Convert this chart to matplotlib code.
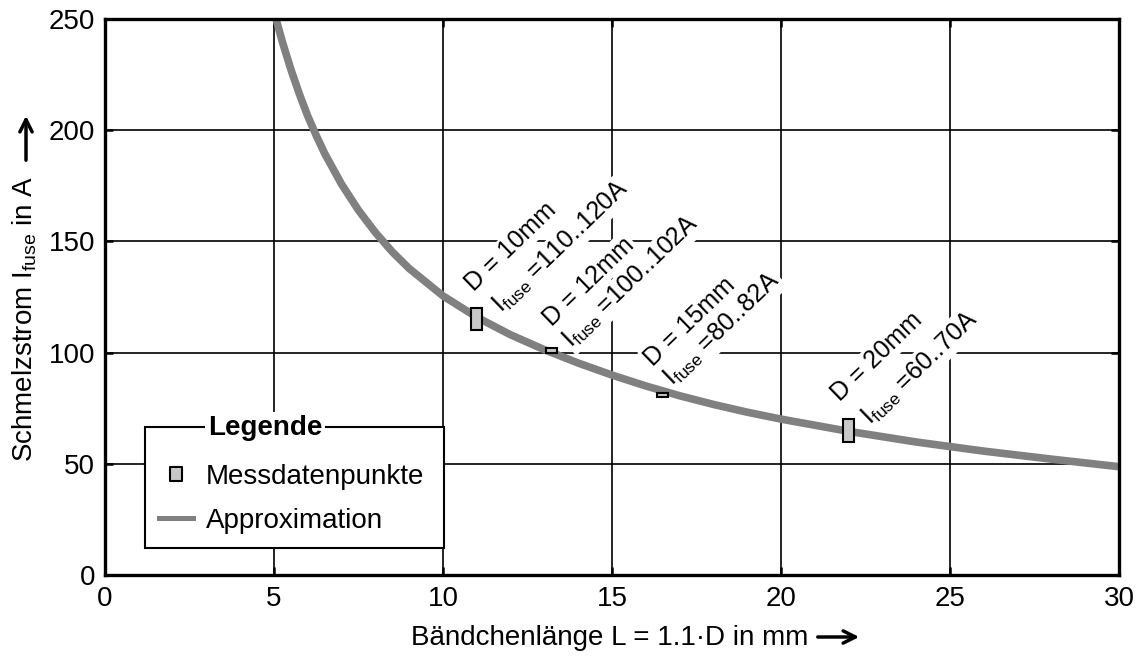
import matplotlib
matplotlib.use('Agg')
import matplotlib.pyplot as plt
from matplotlib.lines import Line2D
from matplotlib.path import Path
from matplotlib.patches import FancyArrowPatch

plt.rcParams['font.family'] = ['Liberation Sans', 'DejaVu Sans']
plt.rcParams['mathtext.fontset'] = 'custom'
plt.rcParams['mathtext.rm'] = 'Liberation Sans'
plt.rcParams['mathtext.it'] = 'Liberation Sans:italic'
plt.rcParams['mathtext.bf'] = 'Liberation Sans:bold'

# ---------------- data ----------------
curve_L = [5.06, 5.25, 5.5, 5.75, 6.0, 6.25, 6.5, 7.0, 7.5, 8.0, 8.5, 9.0,
           10, 11, 12, 13, 14, 15, 16, 17, 18, 19, 20, 22, 24, 26, 28, 30]
curve_I = [250, 239.6, 227.3, 216.3, 206.3, 197.6, 189.5, 175.7, 164.0, 154.0, 145.3, 137.8,
           125.5, 115.9, 108.0, 101.3, 95.3, 89.9, 85.0, 80.6, 76.7, 73.2, 70.1,
           64.6, 59.8, 55.7, 52.1, 48.7]

meas_D = [10, 12, 15, 20]
meas_L = [11.0, 13.2, 16.5, 22.0]
meas_Imin = [110, 100, 80, 60]
meas_Imax = [120, 102, 82, 70]

x_ticks = [0, 5, 10, 15, 20, 25, 30]
y_ticks = [0, 50, 100, 150, 200, 250]

legend_labels = ['Messdatenpunkte', 'Approximation']

# ---------------- layout ----------------
W, H = 1141, 660
fig = plt.figure(figsize=(W / 100, H / 100), dpi=100)
ax = fig.add_axes([105 / W, 1 - 575 / H, (1119 - 105) / W, (575 - 19) / H])

FS = 20
GRAY = '#808080'
FILL = '#c8c8c8'

ax.set_xlim(x_ticks[0], x_ticks[-1])
ax.set_ylim(y_ticks[0], y_ticks[-1])
ax.set_xticks(x_ticks)
ax.set_yticks(y_ticks)
ax.grid(True, color='black', linewidth=1.2, zorder=0)
ax.set_axisbelow(True)
for s in ax.spines.values():
    s.set_linewidth(2.4)
    s.set_zorder(10)
ax.tick_params(axis='both', which='major', direction='in', length=6, width=1.8,
               top=True, right=True, labelsize=FS)
ax.tick_params(axis='x', pad=8)
ax.tick_params(axis='y', pad=7)

# approximation curve
ax.plot(curve_L, curve_I, color=GRAY, linewidth=5.5, solid_capstyle='butt',
        solid_joinstyle='round', zorder=3)

# measurement ranges
ax.bar(meas_L, [hi - lo for hi, lo in zip(meas_Imax, meas_Imin)], bottom=meas_Imin,
       width=0.33, color=FILL, edgecolor='black', linewidth=1.5, zorder=4)

# annotations
ann_line1 = [(10.93, 127.2), (13.22, 111.6), (16.22, 93.7), (21.75, 77.9)]
ann_line2 = [(11.75, 117.7), (13.82, 101.9), (16.81, 84.7), (22.64, 67.4)]
box = dict(facecolor='white', edgecolor='none', pad=1.5)
for D, lo, hi, p1, p2 in zip(meas_D, meas_Imin, meas_Imax, ann_line1, ann_line2):
    ax.text(p1[0], p1[1], f'D = {D}mm', rotation=44, rotation_mode='anchor',
            ha='left', va='baseline', fontsize=18, bbox=box, zorder=2)
    ax.text(p2[0], p2[1], r'I$_{\mathrm{fuse}}$ =' + f'{lo}..{hi}A', rotation=44,
            rotation_mode='anchor', ha='left', va='baseline', fontsize=18,
            bbox=box, zorder=2)

# legend
rect_marker = Path([(-0.38, -0.5), (0.38, -0.5), (0.38, 0.5), (-0.38, 0.5), (-0.38, -0.5)],
                   [Path.MOVETO, Path.LINETO, Path.LINETO, Path.LINETO, Path.CLOSEPOLY])
h1 = Line2D([], [], ls='none', marker=rect_marker, markersize=10.5,
            markerfacecolor=FILL, markeredgecolor='black', markeredgewidth=1.5)
h2 = Line2D([], [], color=GRAY, linewidth=3.6)
lx0 = (145 - 105) / 1014
ly0 = (575 - 548) / 556
lw_ = (444 - 145) / 1014
lh_ = (548 - 427) / 556
leg = ax.legend([h1, h2], legend_labels, loc='lower left',
                bbox_to_anchor=(lx0, ly0, lw_, lh_), mode='expand', borderaxespad=0,
                title=' ', title_fontsize=2, fontsize=FS, frameon=True, fancybox=False,
                edgecolor='black', framealpha=1, handlelength=1.19, handletextpad=0.47,
                labelspacing=0.65, borderpad=0.52)
leg.get_frame().set_linewidth(1.5)
leg.set_zorder(8)
ax.text((208 - 105) / 1014, (575 - 428) / 556, 'Legende', transform=ax.transAxes,
        ha='left', va='center', fontsize=FS, fontweight='bold',
        bbox=dict(facecolor='white', edgecolor='none', pad=2), zorder=9)

# axis labels with arrows
fig.text(411 / W, 1 - 638 / H, 'Bändchenlänge L = 1.1·D in mm', ha='left', va='center',
         fontsize=FS)
fig.text(25 / W, 1 - 319 / H, r'Schmelzstrom I$_{\mathrm{fuse}}$ in A', rotation=90,
         ha='center', va='center', fontsize=FS)
arrow = dict(arrowstyle='->', lw=2.5, color='black', mutation_scale=22)
fig.add_artist(FancyArrowPatch((815 / W, 1 - 637 / H), (862 / W, 1 - 637 / H),
               transform=fig.transFigure, **arrow))
fig.add_artist(FancyArrowPatch((26 / W, 1 - 163 / H), (26 / W, 1 - 113 / H),
               transform=fig.transFigure, **arrow))

fig.savefig('out.png', dpi=100)
